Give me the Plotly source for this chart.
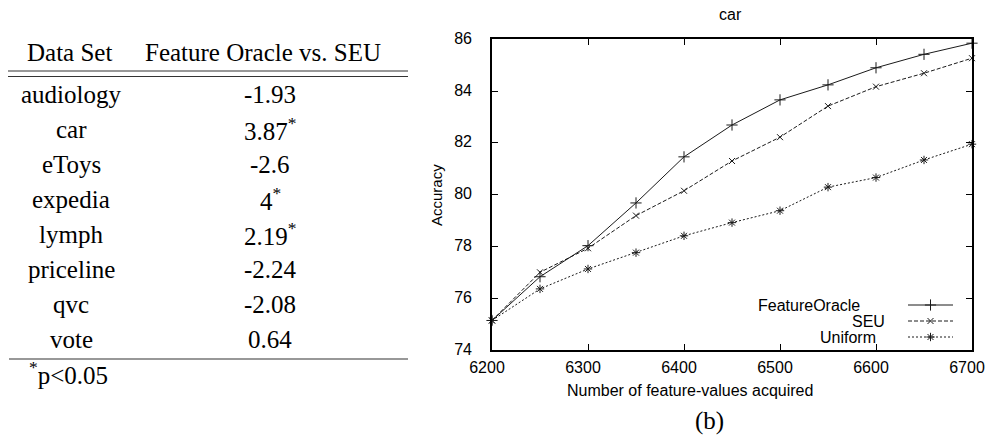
import plotly.graph_objects as go

W, H = 987, 438

# ---------------- data ----------------
datasets = ["audiology", "car", "eToys", "expedia", "lymph", "priceline", "qvc", "vote"]
diffs = ["-1.93", "3.87", "-2.6", "4", "2.19", "-2.24", "-2.08", "0.64"]
significant = [False, True, False, True, True, False, False, False]
table_headers = ["Data Set", "Feature Oracle vs. SEU"]
footnote = "<sup>*</sup>p&lt;0.05"

acquired = [6200, 6250, 6300, 6350, 6400, 6450, 6500, 6550, 6600, 6650, 6700]
feature_oracle = [75.14, 76.83, 78.03, 79.68, 81.46, 82.69, 83.66, 84.24, 84.90, 85.42, 85.85]
seu = [75.14, 77.00, 77.93, 79.19, 80.15, 81.30, 82.22, 83.42, 84.17, 84.69, 85.27]
uniform = [75.14, 76.36, 77.13, 77.76, 78.41, 78.92, 79.38, 80.29, 80.66, 81.34, 81.95]
series_names = ["FeatureOracle", "SEU", "Uniform"]
x_ticks = [6200, 6300, 6400, 6500, 6600, 6700]
y_ticks = [74, 76, 78, 80, 82, 84, 86]


def px(x):
    return x / W


def py(y):
    return 1 - y / H


SERIF = "Liberation Serif"
SANS = "Liberation Sans"
INK = "#1a1a1a"

styles = [
    dict(dash="solid", symbol="cross-thin", size=8),
    dict(dash="4px,2px", symbol="x-thin", size=6),
    dict(dash="2px,2px", symbol="asterisk", size=7),
]

fig = go.Figure()
for name, ys, st in zip(series_names, [feature_oracle, seu, uniform], styles):
    fig.add_trace(go.Scatter(
        x=acquired, y=ys, mode="lines+markers", name=name, showlegend=False,
        line=dict(color=INK, width=1.0, dash=st["dash"]),
        marker=dict(symbol=st["symbol"], size=st["size"], color=INK,
                    line=dict(color=INK, width=1.0)),
        cliponaxis=False,
    ))

# legend glyph markers on an overlay pixel axis
leg_rows = [305, 321, 337]
leg_x0, leg_x1 = 908, 953
for name, st, yy in zip(series_names, styles, leg_rows):
    fig.add_trace(go.Scatter(
        x=[(leg_x0 + leg_x1) / 2], y=[yy], mode="markers", xaxis="x2", yaxis="y2",
        showlegend=False, hoverinfo="skip", cliponaxis=False,
        marker=dict(symbol=st["symbol"], size=st["size"], color=INK,
                    line=dict(color=INK, width=1.0)),
    ))

axis_common = dict(
    showline=True, linecolor="black", linewidth=1.6, mirror="allticks",
    ticks="inside", ticklen=6, tickwidth=1.2, tickcolor="black",
    showgrid=False, zeroline=False, ticklabeloverflow="allow", automargin=False,
    tickfont=dict(family=SANS, size=16, color="black"),
)

shapes = []
# table rules
for yy, x0 in [(71, 8), (76.5, 8), (359, 9)]:
    shapes.append(dict(type="line", xref="paper", yref="paper", x0=px(x0), x1=px(408),
                       y0=py(yy), y1=py(yy), line=dict(color="#333", width=1.2)))
# legend line samples
for st, yy in zip(styles, leg_rows):
    shapes.append(dict(type="line", xref="paper", yref="paper", x0=px(leg_x0), x1=px(leg_x1),
                       y0=py(yy), y1=py(yy), line=dict(color=INK, width=1.0, dash=st["dash"])))

ann = []


def text(t, x, y, size, family, xanchor="center", angle=0):
    ann.append(dict(text=t, x=px(x), y=py(y), xref="paper", yref="paper", showarrow=False,
                    xanchor=xanchor, yanchor="middle", textangle=angle,
                    font=dict(family=family, size=size, color="black")))


TS = 25
text(table_headers[0], 69, 52, TS, SERIF)
text(table_headers[1], 263, 52, TS, SERIF)
row0, step = 94, 35
for i, (d, v, s) in enumerate(zip(datasets, diffs, significant)):
    yy = row0 + i * step
    text(d, 71, yy, TS, SERIF)
    text(v + ("<sup>*</sup>" if s else ""), 270, yy, TS, SERIF)
text(footnote, 27, 373, TS, SERIF, xanchor="left")

# chart texts
text("car", 730, 14, 16, SANS)
text("Accuracy", 436, 195, 15, SANS, angle=-90)
text("Number of feature-values acquired", 690, 390, 16, SANS)
text("(b)", 709, 421, 25, SERIF)
legend_text_right = [862, 887, 878]
for name, yy, xr in zip(series_names, leg_rows, legend_text_right):
    text(name, xr, yy, 16, SANS, xanchor="right")

fig.update_layout(
    template="none",
    width=W, height=H, margin=dict(l=0, r=0, t=0, b=0, autoexpand=False),
    paper_bgcolor="white", plot_bgcolor="rgba(0,0,0,0)",
    font=dict(family=SANS, color="black"),
    xaxis=dict(domain=[px(492), px(972)], range=[6200, 6700], tickvals=x_ticks,
               ticklabelstandoff=2, ticklabelshift=-5, **axis_common),
    yaxis=dict(domain=[py(350), py(39.3)], range=[74, 86], tickvals=y_ticks,
               ticklabelstandoff=15, ticklabelshift=-1, **axis_common),
    xaxis2=dict(domain=[0, 1], range=[0, W], visible=False, fixedrange=True, automargin=False),
    yaxis2=dict(domain=[0, 1], range=[H, 0], visible=False, fixedrange=True, automargin=False),
    shapes=shapes, annotations=ann,
)

fig.write_html("out.html")
